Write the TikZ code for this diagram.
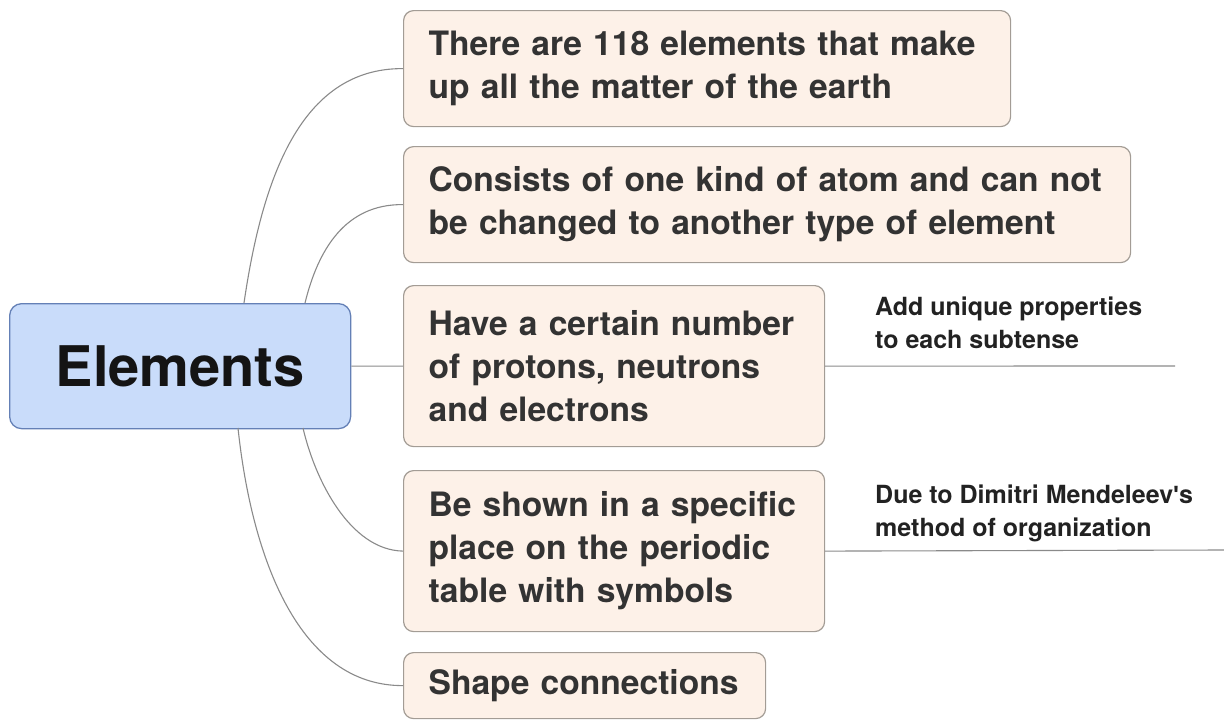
\documentclass[tikz,border=0pt]{standalone}
\usepackage{fontspec}
\setmainfont{TeX Gyre Heros}[Ligatures=ResetAll]
\newfontfamily\apofont{Liberation Sans}[Ligatures=ResetAll]
\newcommand{\apos}{{\apofont\char"0027}}
\begin{document}
\begin{tikzpicture}[x=1pt,y=-1pt,
  topic/.style={draw=boxborder, fill=boxfill, rounded corners=10pt, line width=1.2pt,
    anchor=north west, align=left, inner xsep=25pt, inner ysep=0pt,
    font=\bfseries\fontsize{33.6}{43}\selectfont, text=txt},
  central/.style={draw=cborder, fill=cfill, rounded corners=12pt, line width=1.3pt,
    anchor=north west, inner sep=0pt, minimum width=341pt, minimum height=125pt,
    font=\bfseries\fontsize{56}{60}\selectfont, text=black!92},
  note/.style={anchor=north west, inner sep=0pt, align=left,
    font=\bfseries\fontsize{25}{33}\selectfont, text=notetxt},
  conn/.style={draw=linec, line width=1.1pt}]
\definecolor{boxfill}{HTML}{FDF1E8}
\definecolor{boxborder}{HTML}{A39C95}
\definecolor{cfill}{HTML}{C9DCFA}
\definecolor{cborder}{HTML}{6480B6}
\definecolor{txt}{HTML}{333333}
\definecolor{notetxt}{HTML}{222222}
\definecolor{linec}{HTML}{8A8A8A}
\useasboundingbox (0,0) rectangle (1224,720);

\node[central] (c) at (9,303) {Elements};

\node[topic, minimum width=607pt, minimum height=116pt, text width=557pt] (b1) at (403,10)
  {There are 118 elements that make\\up all the matter of the earth};
\node[topic, minimum width=727pt, minimum height=116pt, text width=677pt] (b2) at (403,146)
  {Consists of one kind of atom and can not\\be changed to another type of element};
\node[topic, minimum width=421pt, minimum height=161pt, text width=371pt] (b3) at (403,285)
  {Have a certain number\\of protons, neutrons\\and electrons};
\node[topic, minimum width=421pt, minimum height=161pt, text width=371pt] (b4) at (403,470)
  {Be shown in a specific\\place on the periodic\\table with symbols};
\node[topic, minimum width=362pt, minimum height=66pt, text width=312pt] (b5) at (403,652)
  {Shape connections};

\node[note] (n3) at (875,297) {Add unique properties\\to each subtense};
\node[note] (n4) at (875,485) {Due to Dimitri Mendeleev\apos s\\method of organization};

\coordinate (t1) at (244,303);
\coordinate (t2) at (305,303);
\coordinate (u4) at (303,428);
\coordinate (u5) at (238,428);
\coordinate (e3) at (1175,366);
\coordinate (e4) at (1224,550);

\draw[conn] (t1) .. controls (262,180) and (300,68) .. (b1.west);
\draw[conn] (t2) .. controls (318,250) and (345,204) .. (b2.west);
\draw[conn] (c.east) -- (b3.west);
\draw[conn] (u4) .. controls (315,480) and (350,550) .. (b4.west);
\draw[conn] (u5) .. controls (252,560) and (300,686) .. (b5.west);
\draw[conn] (b3.east) -- (e3);
\draw[conn] (b4.east) -- (e4);
\end{tikzpicture}
\end{document}
